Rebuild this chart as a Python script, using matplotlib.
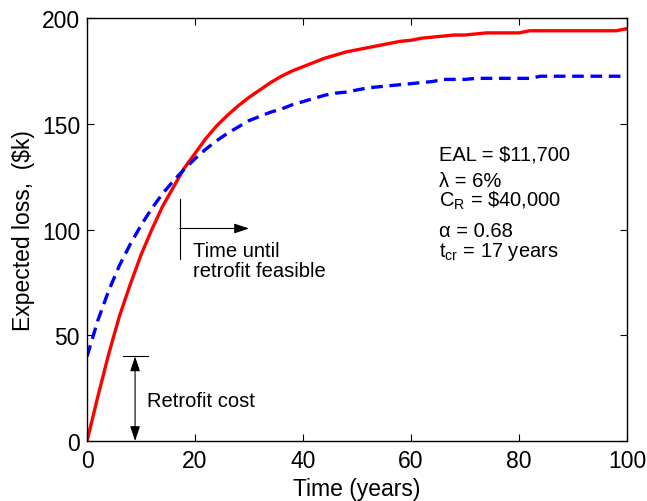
import matplotlib
matplotlib.use('Agg')
import matplotlib.pyplot as plt

plt.rcParams['font.family'] = ['Liberation Sans', 'DejaVu Sans']
plt.rcParams['mathtext.fontset'] = 'custom'
plt.rcParams['mathtext.rm'] = 'Liberation Sans'
plt.rcParams['mathtext.it'] = 'Liberation Sans'

# values
years = [0, 2, 4, 6, 8, 10, 12, 14, 16, 18, 20, 22, 24, 26, 28, 30, 32, 34, 36, 38,
         40, 42, 44, 46, 48, 50, 52, 54, 56, 58, 60, 62, 64, 66, 68, 70, 72, 74, 76, 78,
         80, 82, 84, 86, 88, 90, 92, 94, 96, 98, 100]
loss_no_retrofit = [0, 21, 41, 59, 74, 88, 100, 111, 120, 129, 136, 143, 149, 154, 158.5,
                    162.5, 166, 169.5, 172.5, 175, 177, 179, 181, 182.5, 184, 185, 186, 187,
                    188, 189, 189.5, 190.5, 191, 191.5, 192, 192, 192.5, 193, 193, 193, 193,
                    194, 194, 194, 194, 194, 194, 194, 194, 194, 195]
loss_retrofit = [40, 57, 71, 83, 93, 102, 110, 117, 123, 128.5, 133.5, 138, 142, 145.5,
                 148.5, 151.5, 153.5, 155.5, 157, 159, 160.5, 162, 163.5, 164.5, 165, 166,
                 167, 167.5, 168, 168.5, 169, 169.5, 170, 171, 171, 171, 171.5, 171.5, 171.5,
                 171.5, 171.5, 171.5, 172.5, 172.5, 172.5, 172.5, 172.5, 172.5, 172.5, 172.5,
                 172.5]
retrofit_cost = 40
t_cr = 17.2

fs_ax = 16.5   # tick and axis labels
fs_txt = 14.5  # annotations

fig = plt.figure(figsize=(6.47, 5.02), dpi=100)
ax = fig.add_axes([0.1345, 0.1195, 0.8345, 0.8425])

ax.plot(years, loss_no_retrofit, color=(1, 0, 0), linewidth=2.4)
ax.plot(years, loss_retrofit, color=(0, 0, 1), linewidth=2.4, linestyle=(0, (3.5, 2)))

ax.set_xlim(0, 100)
ax.set_ylim(0, 200)
ax.set_xticks([0, 20, 40, 60, 80, 100])
ax.set_yticks([0, 50, 100, 150, 200])
ax.tick_params(direction='in', top=True, right=True, length=5, width=0.8, labelsize=fs_ax)
ax.tick_params(axis='x', pad=6)
ax.tick_params(axis='y', pad=5)
for s in ax.spines.values():
    s.set_linewidth(1.0)
ax.set_xlabel('Time (years)', fontsize=fs_ax, labelpad=3)
ax.set_ylabel('Expected loss,  ($k)', fontsize=fs_ax, labelpad=5)

# time until retrofit feasible
ax.plot([t_cr, t_cr], [86, 114.5], color='black', linewidth=0.8)
ax.annotate('', xy=(30, 100.5), xytext=(t_cr, 100.5),
            arrowprops=dict(arrowstyle='-|>,head_length=0.9,head_width=0.3',
                            color='black', linewidth=0.8, shrinkA=0, shrinkB=0))
ax.text(19.6, 94.5, 'Time until\nretrofit feasible', fontsize=fs_txt, va='top', ha='left',
        linespacing=1.08)

# retrofit cost
ax.plot([6.7, 11.3], [retrofit_cost, retrofit_cost], color='black', linewidth=0.8)
ax.annotate('', xy=(8.9, 0), xytext=(8.9, retrofit_cost),
            arrowprops=dict(arrowstyle='<|-|>,head_length=0.9,head_width=0.3',
                            color='black', linewidth=0.8, shrinkA=0, shrinkB=0))
ax.text(11.1, 19, 'Retrofit cost', fontsize=fs_txt, va='center', ha='left')

# parameters
ax.text(65.2, 135.7, 'EAL = $11,700', fontsize=fs_txt, va='center', ha='left')
ax.text(65.2, 123.0, '\u03bb = 6%', fontsize=fs_txt, va='center', ha='left')
ax.text(65.2, 114.0, r'$\mathregular{C_R}$ = \$40,000', fontsize=fs_txt, va='center', ha='left')
ax.text(65.2, 99.5, '\u03b1 = 0.68', fontsize=fs_txt, va='center', ha='left')
ax.text(65.2, 90.0, r'$\mathregular{t_{cr}}$ = 17 years', fontsize=fs_txt, va='center', ha='left')

plt.savefig('out.png', dpi=100)
